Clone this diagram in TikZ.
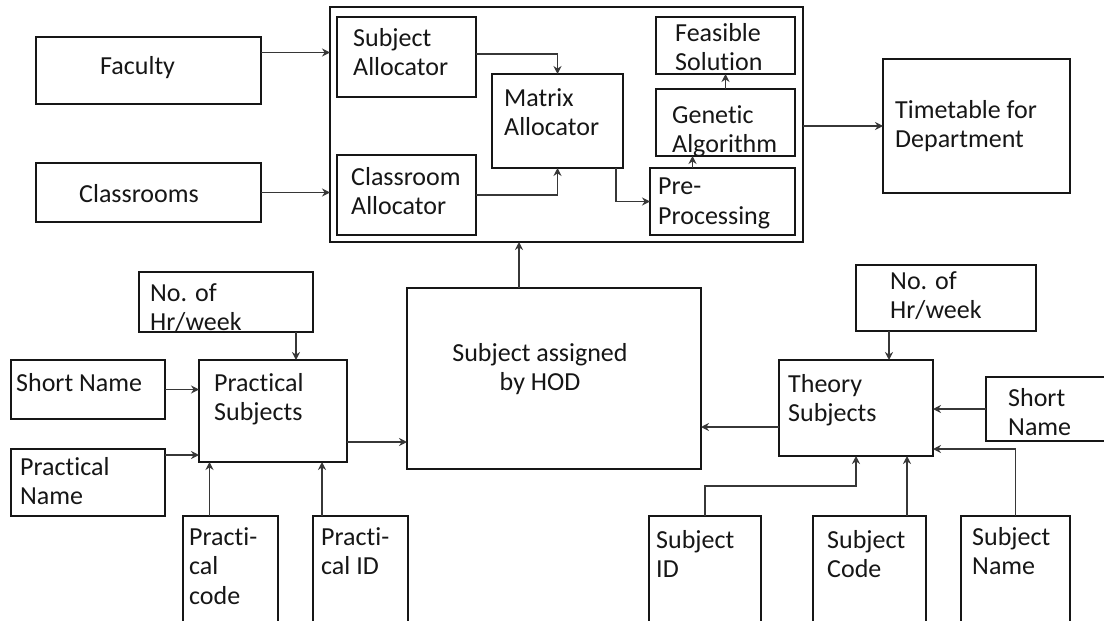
\documentclass[tikz,border=0pt]{standalone}
\usepackage{fontspec}
\setmainfont{Carlito}[Ligatures={NoCommon, NoRare}]
\usetikzlibrary{arrows.meta, positioning}
\definecolor{InkBlack}{RGB}{22, 22, 22}
\definecolor{LineGray}{RGB}{55, 55, 55}

\begin{document}
\begin{tikzpicture}[
    x=1pt, y=-1pt,
    block/.style={draw=InkBlack, line width=1.8pt, inner sep=0pt, outer sep=0pt, anchor=north west},
    caption/.style={inner sep=0pt, align=left, text=InkBlack, font=\fontsize{26}{29.5}\selectfont},
    link/.style={draw=LineGray, line width=1.5pt, -{Stealth[length=8pt, width=8pt]}}
]
\useasboundingbox (0,0) rectangle (1104,621);

% Core system
\node[block, minimum width=473pt, minimum height=235pt] (core) at (330,7) {};
\node[block, minimum width=139pt, minimum height=80pt] (salloc) at (337,17) {};
\node[block, minimum width=139pt, minimum height=80pt] (calloc) at (337,155) {};
\node[block, minimum width=131pt, minimum height=94pt] (malloc) at (492,74) {};
\node[block, minimum width=139pt, minimum height=57pt] (feas) at (656,17) {};
\node[block, minimum width=139pt, minimum height=67pt] (gen) at (656,89) {};
\node[block, minimum width=145pt, minimum height=67pt] (prep) at (650,168) {};
\node[caption, below right=11pt and 16pt of salloc.north west] (salloc-t) {Subject\\Allocator};
\node[caption, below right=12pt and 14pt of calloc.north west] (calloc-t) {Classroom\\Allocator};
\node[caption, below right=14pt and 12pt of malloc.north west] (malloc-t) {Matrix\\Allocator};
\node[caption, below right=6pt and 19pt of feas.north west] (feas-t) {Feasible\\Solution};
\node[caption, below right=16pt and 16pt of gen.north west] (gen-t) {Genetic\\Algorithm};
\node[caption, below right=10pt and 8pt of prep.north west] (prep-t) {Pre-\\Processing};

% Inputs and output
\node[block, minimum width=225pt, minimum height=67pt] (fac) at (36,37) {};
\node[block, minimum width=225pt, minimum height=59pt] (cls) at (36,163) {};
\node[block, minimum width=187pt, minimum height=134pt] (tt) at (883,59) {};
\node[caption, below right=19pt and 64pt of fac.north west] (fac-t) {Faculty};
\node[caption, below right=21pt and 43pt of cls.north west] (cls-t) {Classrooms};
\node[caption, below right=41pt and 12pt of tt.north west] (tt-t) {Timetable for\\Department};

% HOD
\node[block, minimum width=294pt, minimum height=181pt] (hod) at (407,288) {};
\node[caption, align=center, below=55pt of hod.north, xshift=-14pt] (hod-t) {Subject assigned\\by HOD};

% Practical side
\node[block, minimum width=174pt, minimum height=60pt] (phrs) at (139,272) {};
\node[block, minimum width=148pt, minimum height=102pt] (prac) at (199,360) {};
\node[block, minimum width=154pt, minimum height=59pt] (psn) at (11,360) {};
\node[block, minimum width=154pt, minimum height=67pt] (pname) at (11,449) {};
\node[block, minimum width=95pt, minimum height=110pt] (pcode) at (183,516) {};
\node[block, minimum width=95pt, minimum height=110pt] (pid) at (313,516) {};
\node[caption, below right=11pt and 11pt of phrs.north west] (phrs-t) {No. of\\Hr/week};
\node[caption, below right=13pt and 15pt of prac.north west] (prac-t) {Practical\\Subjects};
\node[caption, below right=13pt and 5pt of psn.north west] (psn-t) {Short Name};
\node[caption, below right=8pt and 9pt of pname.north west] (pname-t) {Practical\\Name};
\node[caption, below right=11pt and 6pt of pcode.north west] (pcode-t) {Practi-\\cal\\code};
\node[caption, below right=11pt and 8pt of pid.north west] (pid-t) {Practi-\\cal ID};

% Theory side
\node[block, minimum width=180pt, minimum height=66pt] (thrs) at (856,265) {};
\node[block, minimum width=154pt, minimum height=96pt] (theo) at (779,360) {};
\node[block, minimum width=130pt, minimum height=64pt] (tsn) at (986,377) {};
\node[block, minimum width=109pt, minimum height=110pt] (sname) at (961,516) {};
\node[block, minimum width=113pt, minimum height=110pt] (scode) at (813,516) {};
\node[block, minimum width=112pt, minimum height=110pt] (sid) at (649,516) {};
\node[caption, below right=6pt and 34pt of thrs.north west] (thrs-t) {No. of\\Hr/week};
\node[caption, below right=14pt and 9pt of theo.north west] (theo-t) {Theory\\Subjects};
\node[caption, below right=11pt and 22pt of tsn.north west] (tsn-t) {Short\\Name};
\node[caption, below right=11pt and 11pt of sname.north west] (sname-t) {Subject\\Name};
\node[caption, below right=14pt and 14pt of scode.north west] (scode-t) {Subject\\Code};
\node[caption, below right=14pt and 7pt of sid.north west] (sid-t) {Subject\\ID};

% Links inside the core
\draw[link] ([yshift=3pt]salloc.east) -| (malloc.north);
\draw[link] (calloc.east) -| (malloc.south);
\draw[link] ([xshift=-7pt]malloc.south east) |- (prep.west);
\draw[link] ([xshift=-30pt]prep.north) -- ([xshift=-30pt]prep.north |- gen.south);
\draw[link] (gen.north) -- (feas.south);

% Links to and from the core
\draw[link] ([yshift=18pt]fac.east) -- ([yshift=18pt]fac.east -| core.west);
\draw[link] (cls.east) -- (cls.east -| core.west);
\draw[link] (tt.west -| core.east) -- (tt.west);
\draw[link] ([xshift=-35pt]hod.north) -- ([xshift=-35pt]hod.north |- core.south);

% Practical links
\draw[link] ([xshift=70pt]phrs.south) -- ([xshift=70pt]phrs.south |- prac.north);
\draw[link] (psn.east) -- (psn.east -| prac.west);
\draw[link] ([yshift=-6pt]pname.north east) -- ([yshift=-6pt]pname.north east -| prac.west);
\draw[link] ([xshift=-21pt]pcode.north) -- ([xshift=-21pt]pcode.north |- prac.south);
\draw[link] ([xshift=9pt]pid.north west) -- ([xshift=9pt]pid.north west |- prac.south);
\draw[link] ([yshift=-31pt]prac.east) -- ([yshift=-31pt]prac.east -| hod.west);

% Theory links
\draw[link] ([xshift=33pt]theo.north |- thrs.south) -- ([xshift=33pt]theo.north);
\draw[link] (tsn.west) -- (tsn.west -| theo.east);
\draw[link] (sname.north) |- ([yshift=7pt]theo.south east);
\draw[link] ([xshift=-19pt]scode.north east) -- ([xshift=-19pt]scode.north east |- theo.south);
\draw[link] (sid.north) -- ++(0pt,30pt) -| (theo.south);
\draw[link] ([yshift=-19pt]theo.west) -- ([yshift=-19pt]theo.west -| hod.east);

\end{tikzpicture}
\end{document}
